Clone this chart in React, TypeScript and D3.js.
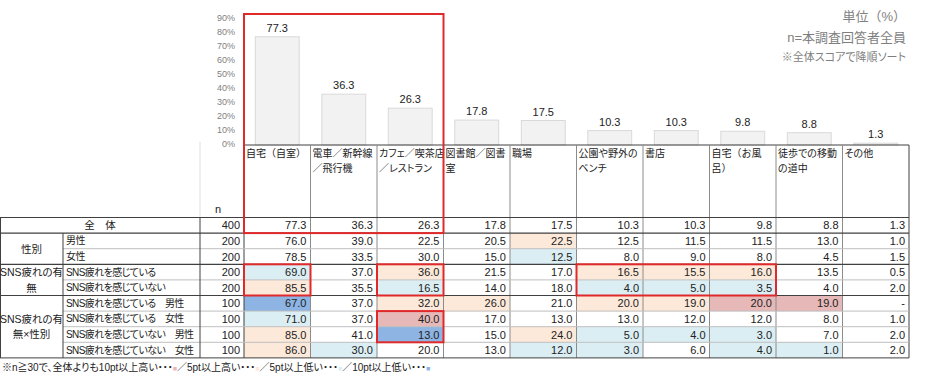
import React from "react";
import * as d3 from "d3";

// ---------- data ----------
const categories = [
  "自宅（自室）",
  "電車／新幹線／飛行機",
  "カフェ／喫茶店／レストラン",
  "図書館／図書室",
  "職場",
  "公園や野外のベンチ",
  "書店",
  "自宅（お風呂）",
  "徒歩での移動の道中",
  "その他",
];
const headerLines = [
  ["自宅（自室）"],
  ["電車／新幹線", "／飛行機"],
  ["カフェ／喫茶店", "／レストラン"],
  ["図書館／図書", "室"],
  ["職場"],
  ["公園や野外の", "ベンチ"],
  ["書店"],
  ["自宅（お風", "呂）"],
  ["徒歩での移動", "の道中"],
  ["その他"],
];
const overallValues = [77.3, 36.3, 26.3, 17.8, 17.5, 10.3, 10.3, 9.8, 8.8, 1.3];
const yTicks = [0, 10, 20, 30, 40, 50, 60, 70, 80, 90];

const rowLabels = [
  "全　体",
  "男性",
  "女性",
  "SNS疲れを感じている",
  "SNS疲れを感じていない",
  "SNS疲れを感じている　男性",
  "SNS疲れを感じている　女性",
  "SNS疲れを感じていない　男性",
  "SNS疲れを感じていない　女性",
];
const groupLabels = [
  { lines: ["性別"], from: 1, to: 2 },
  { lines: ["SNS疲れの有", "無"], from: 3, to: 4 },
  { lines: ["SNS疲れの有", "無×性別"], from: 5, to: 8 },
];
const nValues = [400, 200, 200, 200, 200, 100, 100, 100, 100];
const tableValues: (number | null)[][] = [
  [77.3, 36.3, 26.3, 17.8, 17.5, 10.3, 10.3, 9.8, 8.8, 1.3],
  [76.0, 39.0, 22.5, 20.5, 22.5, 12.5, 11.5, 11.5, 13.0, 1.0],
  [78.5, 33.5, 30.0, 15.0, 12.5, 8.0, 9.0, 8.0, 4.5, 1.5],
  [69.0, 37.0, 36.0, 21.5, 17.0, 16.5, 15.5, 16.0, 13.5, 0.5],
  [85.5, 35.5, 16.5, 14.0, 18.0, 4.0, 5.0, 3.5, 4.0, 2.0],
  [67.0, 37.0, 32.0, 26.0, 21.0, 20.0, 19.0, 20.0, 19.0, null],
  [71.0, 37.0, 40.0, 17.0, 13.0, 13.0, 12.0, 12.0, 8.0, 1.0],
  [85.0, 41.0, 13.0, 15.0, 24.0, 5.0, 4.0, 3.0, 7.0, 2.0],
  [86.0, 30.0, 20.0, 13.0, 12.0, 3.0, 6.0, 4.0, 1.0, 2.0],
];
// significance vs overall: 2 = +10pt, 1 = +5pt, -1 = -5pt, -2 = -10pt
const significance = [
  [0, 0, 0, 0, 0, 0, 0, 0, 0, 0],
  [0, 0, 0, 0, 1, 0, 0, 0, 0, 0],
  [0, 0, 0, 0, -1, 0, 0, 0, 0, 0],
  [-1, 0, 1, 0, 0, 1, 1, 1, 0, 0],
  [1, 0, -1, 0, 0, -1, -1, -1, 0, 0],
  [-2, 0, 1, 1, 0, 1, 1, 2, 2, 0],
  [-1, 0, 2, 0, 0, 0, 0, 0, 0, 0],
  [1, 0, -2, 0, 1, -1, -1, -1, 0, 0],
  [1, -1, 0, 0, -1, -1, 0, -1, -1, 0],
];
const legendItems = [
  { text: "全体よりも10pt以上高い・・・", level: 2 },
  { text: "5pt以上高い・・・", level: 1 },
  { text: "5pt以上低い・・・", level: -1 },
  { text: "10pt以上低い・・・", level: -2 },
];
// highlight boxes: [rowFrom, rowTo, colFrom, colTo]
const highlightBoxes = [
  [3, 4, 0, 0],
  [3, 4, 2, 2],
  [3, 4, 5, 7],
  [6, 7, 2, 2],
];

// ---------- styles ----------
const W = 926;
const H = 379;
const FONT = "'Liberation Sans', Arial, 'Noto Sans CJK JP', sans-serif";
const sigColor: Record<number, string> = {
  2: "#e6b8b7",
  1: "#fde9d9",
  [-1]: "#dbeef4",
  [-2]: "#8db4e2",
};
const RED = "#e0292b";
const PALT = { fontFeatureSettings: '"palt"' };
const NOPALT = { fontFeatureSettings: "normal" };

export default function App() {
  const tableLeft = 0;
  const groupRight = 63;
  const labelRight = 200;
  const nRight = 244;
  const tableRight = 909;
  const headerTop = 145;
  const bodyTop = 217.5;
  const rowH = 15.6;
  const bodyBottom = bodyTop + rowH * rowLabels.length;

  const x = d3.scaleBand<string>().domain(categories).range([nRight, tableRight]).padding(0);
  const bw = x.bandwidth();
  const y = d3.scaleLinear().domain([0, 90]).range([headerTop, 19]);
  const barW = bw * 0.66;
  const rowY = (i: number) => bodyTop + i * rowH;
  const colX = (j: number) => x(categories[j]) as number;

  const groupBoundaries = new Set([1, 3, 5]);

  return (
    <svg
      width={W}
      height={H}
      style={{ position: "absolute", left: 0, top: 0, background: "#fff" }}
      fontFamily={FONT}
    >
      {/* notes top right */}
      <g fill="#7f7f7f" textAnchor="end">
        <text x={906} y={21} fontSize={13}>単位（%）</text>
        <text x={906} y={42} fontSize={13}>n=本調査回答者全員</text>
        <text x={906} y={61} fontSize={11} style={PALT}>※全体スコアで降順ソート</text>
      </g>

      {/* y axis ticks */}
      <g fill="#7f7f7f" fontSize={9} textAnchor="end">
        {yTicks.map((t) => (
          <text key={t} x={235} y={y(t)} dominantBaseline="middle">
            {t}%
          </text>
        ))}
      </g>

      {/* bars */}
      {categories.map((c, j) => {
        const cx = (x(c) as number) + bw / 2;
        const v = overallValues[j];
        return (
          <g key={c}>
            <rect
              x={cx - barW / 2}
              y={y(v)}
              width={barW}
              height={y(0) - y(v)}
              fill="#f2f2f2"
              stroke="#d9d9d9"
              strokeWidth={1}
            />
            <text x={cx} y={y(v) - 5} textAnchor="middle" fontSize={11} fill="#222">
              {v.toFixed(1)}
            </text>
          </g>
        );
      })}

      {/* cell backgrounds */}
      {tableValues.map((row, i) =>
        row.map((v, j) => {
          const s = significance[i][j];
          if (!s) return null;
          return (
            <rect
              key={`bg${i}-${j}`}
              x={colX(j)}
              y={rowY(i)}
              width={bw}
              height={rowH}
              fill={sigColor[s]}
            />
          );
        })
      )}

      {/* header row text */}
      {headerLines.map((lines, j) => (
        <text
          key={`h${j}`}
          fontSize={10}
          fill="#222"
          style={lines.join("").includes("（") ? NOPALT : PALT}
        >
          {lines.map((l, k) => (
            <tspan key={k} x={colX(j) + 2} y={headerTop + 12 + k * 15}>
              {l}
            </tspan>
          ))}
        </text>
      ))}
      <text x={218} y={213} fontSize={11} fill="#222" textAnchor="middle">n</text>

      {/* header grid */}
      <line x1={nRight} x2={tableRight} y1={headerTop} y2={headerTop} stroke="#404040" />
      <line x1={labelRight} x2={labelRight} y1={headerTop - 3} y2={bodyTop} stroke="#e0e0e0" />
      {categories.map((c, j) => (
        <line
          key={`hv${j}`}
          x1={colX(j)}
          x2={colX(j)}
          y1={headerTop}
          y2={bodyBottom}
          stroke={j === 0 ? "#404040" : "#8c8c8c"}
        />
      ))}
      <line x1={tableRight} x2={tableRight} y1={headerTop} y2={bodyBottom} stroke="#404040" />

      {/* body horizontal lines */}
      <line x1={tableLeft} x2={tableRight} y1={bodyTop} y2={bodyTop} stroke="#404040" />
      {rowLabels.map((_, i) => {
        if (i === 0) return null;
        const yy = rowY(i);
        const major = groupBoundaries.has(i);
        return (
          <line
            key={`hl${i}`}
            x1={major ? tableLeft : groupRight}
            x2={tableRight}
            y1={yy}
            y2={yy}
            stroke={major ? "#404040" : "#bfbfbf"}
            strokeWidth={major ? 1.2 : 1}
          />
        );
      })}
      <line x1={tableLeft} x2={tableRight} y1={bodyBottom} y2={bodyBottom} stroke="#404040" />

      {/* body vertical lines */}
      <line x1={tableLeft + 0.5} x2={tableLeft + 0.5} y1={bodyTop} y2={bodyBottom} stroke="#404040" />
      <line x1={groupRight} x2={groupRight} y1={rowY(1)} y2={bodyBottom} stroke="#404040" />
      <line x1={labelRight} x2={labelRight} y1={bodyTop} y2={bodyBottom} stroke="#404040" />

      {/* row labels */}
      <g fontSize={10.5} fill="#222" style={PALT}>
        <text x={(tableLeft + labelRight) / 2} y={rowY(0) + rowH / 2} textAnchor="middle" dominantBaseline="central">
          {rowLabels[0]}
        </text>
        {rowLabels.slice(1).map((l, k) => (
          <text
            key={`rl${k}`}
            x={groupRight + 3}
            y={rowY(k + 1) + rowH / 2}
            dominantBaseline="central"
            fontSize={10}
            letterSpacing={-0.6}
          >
            {l}
          </text>
        ))}
        {groupLabels.map((g, gi) => {
          const top = rowY(g.from);
          const bot = rowY(g.to + 1);
          const mid = (top + bot) / 2;
          const n = g.lines.length;
          return (
            <text key={`g${gi}`} textAnchor="middle" dominantBaseline="central">
              {g.lines.map((l, k) => (
                <tspan key={k} x={(tableLeft + groupRight) / 2} y={mid + (k - (n - 1) / 2) * 15.5}>
                  {l}
                </tspan>
              ))}
            </text>
          );
        })}
      </g>
      <g fontSize={11} fill="#222">
        {nValues.map((n, i) => (
          <text key={`n${i}`} x={nRight - 4} y={rowY(i) + rowH / 2} textAnchor="end" dominantBaseline="central">
            {n}
          </text>
        ))}
        {tableValues.map((row, i) =>
          row.map((v, j) => (
            <text
              key={`v${i}-${j}`}
              x={colX(j) + bw - 4}
              y={rowY(i) + rowH / 2}
              textAnchor="end"
              dominantBaseline="central"
            >
              {v === null ? "-" : v.toFixed(1)}
            </text>
          ))
        )}
      </g>

      {/* red highlight boxes */}
      <rect
        x={colX(0)}
        y={14}
        width={colX(2) + bw - colX(0)}
        height={rowY(1) - 14}
        fill="none"
        stroke={RED}
        strokeWidth={2}
      />
      {highlightBoxes.map(([r0, r1, c0, c1], k) => (
        <rect
          key={`hb${k}`}
          x={colX(c0)}
          y={rowY(r0)}
          width={colX(c1) + bw - colX(c0)}
          height={rowY(r1 + 1) - rowY(r0)}
          fill="none"
          stroke={RED}
          strokeWidth={2}
        />
      ))}

      {/* legend */}
      <text x={2} y={371} fontSize={10} fill="#222" style={PALT}>
        <tspan>※n≧30で、</tspan>
        {legendItems.map((it, k) => (
          <tspan key={k}>
            {k > 0 ? "／" : ""}
            {it.text}
            <tspan fill={sigColor[it.level]} fontSize={7}>■</tspan>
          </tspan>
        ))}
      </text>
    </svg>
  );
}
